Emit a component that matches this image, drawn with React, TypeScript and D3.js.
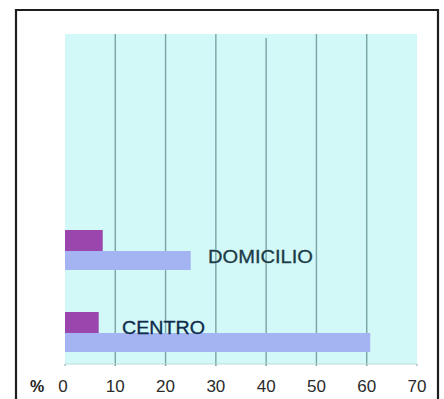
import React from "react";
import * as d3 from "d3";

// Categories, drawn bottom-up as in the original chart
const categories = ["DOMICILIO", "CENTRO"];
// Two series per category: short (purple) bar on top, long (blue) bar below
const seriesA = [7.5, 6.7];
const seriesB = [25, 60.7];
const xTicks = [0, 10, 20, 30, 40, 50, 60, 70];

const W = 444;
const H = 399;

export default function App() {
  const plot = { left: 65, right: 417, top: 34, bottom: 364 };
  const x = d3.scaleLinear().domain([0, 70]).range([plot.left, plot.right]);
  const y = d3.scalePoint<string>().domain(categories).range([250, 332]);

  const colorA = "#9a46ad";
  const colorB = "#a4b4f2";
  const grid = "#7aa5a6";

  // Label anchors for the category names written inside the plot
  const labelX: Record<string, number> = { DOMICILIO: 208, CENTRO: 122 };
  const labelDy: Record<string, number> = { DOMICILIO: 12.5, CENTRO: 2 };
  const labelW: Record<string, number> = { DOMICILIO: 105, CENTRO: 83 };

  return (
    <svg
      width={W}
      height={H}
      style={{ position: "absolute", left: 0, top: 0, display: "block", background: "#fff" }}
      fontFamily="'Liberation Sans', Arial, sans-serif"
    >
      {/* outer frame */}
      <path d={`M16,${H + 2} V10 H438 V${H + 2}`} fill="none" stroke="#1e1e1e" strokeWidth={2.2} />

      {/* plot background */}
      <rect
        x={plot.left}
        y={plot.top}
        width={plot.right - plot.left}
        height={plot.bottom - plot.top}
        fill="#d2f8f8"
      />

      {/* vertical gridlines */}
      {xTicks.slice(1, -1).map((t) => (
        <line
          key={t}
          x1={x(t)}
          x2={x(t)}
          y1={t === 40 ? plot.top + 4 : plot.top}
          y2={plot.bottom + 2}
          stroke={grid}
          strokeWidth={1.4}
        />
      ))}

      {/* axis baseline and ticks */}
      <line x1={plot.left} x2={plot.right} y1={plot.bottom} y2={plot.bottom} stroke="#b9dcdc" strokeWidth={1} />
      {xTicks.map((t) => (
        <line key={`tk${t}`} x1={x(t)} x2={x(t)} y1={plot.bottom} y2={plot.bottom + 2} stroke="#8aa8a8" strokeWidth={1} />
      ))}

      {/* bars */}
      {categories.map((c, i) => {
        const cy = y(c) as number;
        return (
          <g key={c}>
            <rect x={x(0)} y={cy - 20} width={x(seriesA[i]) - x(0)} height={21} fill={colorA} />
            <rect x={x(0)} y={cy + 1} width={x(seriesB[i]) - x(0)} height={19} fill={colorB} />
          </g>
        );
      })}

      {/* category labels */}
      {categories.map((c) => (
        <text
          key={`l${c}`}
          x={labelX[c]}
          y={(y(c) as number) + labelDy[c]}
          fontSize={17.5}
          fill={c === "CENTRO" ? "#0f2b4c" : "#1b3b47"}
          stroke={c === "CENTRO" ? "#0f2b4c" : "#1b3b47"}
          strokeWidth={0.3}
          textLength={labelW[c]}
          lengthAdjust="spacingAndGlyphs"
        >
          {c}
        </text>
      ))}

      {/* tick labels */}
      <text x={30} y={391.5} fontSize={16} fontWeight="bold" fill="#222">
        %
      </text>
      {xTicks.map((t) => (
        <text key={`tl${t}`} x={x(t) - (t === 0 ? 2 : 0)} y={391.5} fontSize={17} textAnchor="middle" fill="#2a2a2a">
          {t}
        </text>
      ))}
    </svg>
  );
}
